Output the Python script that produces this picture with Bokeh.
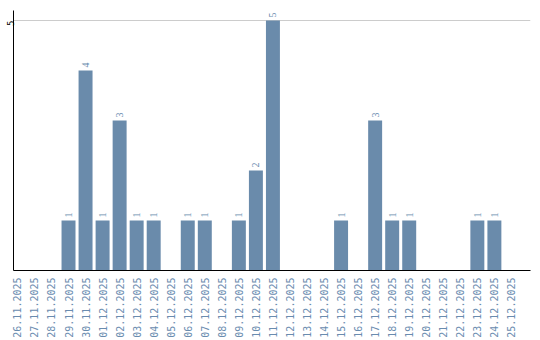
from math import pi
from bokeh.plotting import figure
from bokeh.models import ColumnDataSource, LabelSet, FixedTicker, Range1d
from bokeh.embed import file_html
from bokeh.resources import INLINE

dates = ["26.11.2025", "27.11.2025", "28.11.2025", "29.11.2025", "30.11.2025",
         "01.12.2025", "02.12.2025", "03.12.2025", "04.12.2025", "05.12.2025",
         "06.12.2025", "07.12.2025", "08.12.2025", "09.12.2025", "10.12.2025",
         "11.12.2025", "12.12.2025", "13.12.2025", "14.12.2025", "15.12.2025",
         "16.12.2025", "17.12.2025", "18.12.2025", "19.12.2025", "20.12.2025",
         "21.12.2025", "22.12.2025", "23.12.2025", "24.12.2025", "25.12.2025"]
counts = [0, 0, 0, 1, 4, 1, 3, 1, 1, 0, 1, 1, 0, 1, 2, 5, 0, 0, 0, 1,
          0, 3, 1, 1, 0, 0, 0, 1, 1, 0]
y_ticks = [5]

BAR = "#6a8bab"
TXT = "#6a8caf"

idx = list(range(len(dates)))
src = ColumnDataSource(dict(x=idx, y=counts))
lab_x = [i for i, c in zip(idx, counts) if c > 0]
lab_y = [c for c in counts if c > 0]
lab_src = ColumnDataSource(dict(x=lab_x, y=lab_y, t=[str(c) for c in lab_y]))

p = figure(width=540, height=340, output_backend="svg", toolbar_location=None,
           x_range=Range1d(-0.23, len(dates) + 0.12), y_range=Range1d(0, 5.2),
           min_border_left=0, min_border_right=10, min_border_top=10,
           min_border_bottom=0)
p.outline_line_color = None
p.background_fill_color = "white"
p.border_fill_color = "white"

p.vbar(x="x", top="y", width=0.82, source=src, color=BAR, line_color=None)

labels = LabelSet(x="x", y="y", text="t", source=lab_src, angle=pi / 2,
                  text_align="left", text_baseline="middle", y_offset=3,
                  text_font="DejaVu Sans Mono", text_font_size="10px",
                  text_color=TXT)
p.add_layout(labels)

p.xaxis.ticker = FixedTicker(ticks=idx)
p.xaxis.major_label_overrides = {i: d for i, d in zip(idx, dates)}
p.xaxis.major_label_orientation = pi / 2
p.xaxis.major_label_text_font = "DejaVu Sans Mono"
p.xaxis.major_label_text_font_size = "10px"
p.xaxis.major_label_text_color = TXT
p.xaxis.major_label_standoff = 7
p.xaxis.major_tick_out = 0
p.xaxis.major_tick_in = 0
p.xaxis.major_tick_line_color = None
p.xaxis.minor_tick_line_color = None
p.xaxis.axis_line_color = "black"

p.yaxis.ticker = FixedTicker(ticks=y_ticks)
p.yaxis.major_label_orientation = pi / 2
p.yaxis.major_label_text_font = "DejaVu Sans Mono"
p.yaxis.major_label_text_font_size = "9px"
p.yaxis.major_label_text_color = "black"
p.yaxis.major_label_standoff = 3
p.yaxis.major_tick_out = 0
p.yaxis.major_tick_in = 0
p.yaxis.major_tick_line_color = None
p.yaxis.minor_tick_line_color = None
p.yaxis.axis_line_color = "black"

p.xgrid.grid_line_color = None
p.ygrid.ticker = FixedTicker(ticks=y_ticks)
p.ygrid.grid_line_color = "#cccccc"

open("out.html", "w").write(file_html(p, INLINE))
